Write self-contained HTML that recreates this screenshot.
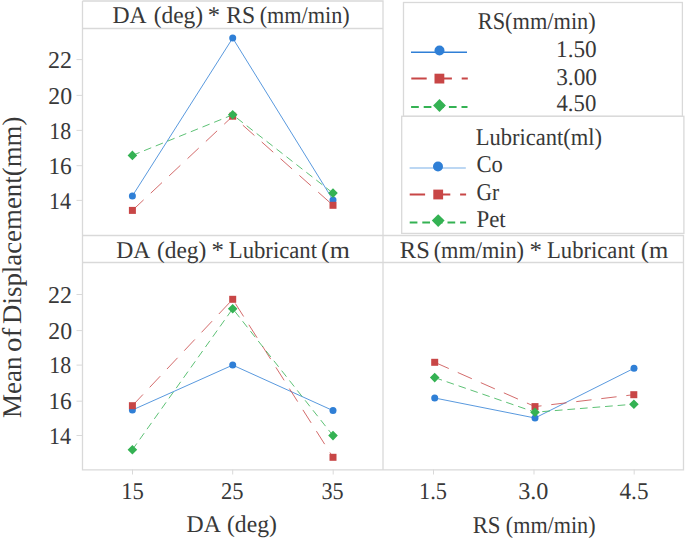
<!DOCTYPE html>
<html><head><meta charset="utf-8">
<title>Interaction Plot for Mean of Displacement(mm)</title>
<style>
html,body{margin:0;padding:0;background:#fff;}
body{width:685px;height:539px;overflow:hidden;}
svg{display:block;}
text{font-family:"Liberation Serif",serif;fill:#383838;text-rendering:geometricPrecision;}
</style></head>
<body>
<svg width="685" height="539" viewBox="0 0 685 539">
<g fill="none" stroke="#d9d9d9" stroke-width="1.3">
<path d="M82.5 1 H383 V469.8 M82.5 1 V469.8 H683.5 V235.5 H82.5 M82.5 28.5 H383 M82.5 262.5 H683.5"/>
</g>
<g fill="none" stroke="#d9d9d9" stroke-width="1">
<path d="M76.5 59.6 H82.5 M76.5 95.4 H82.5 M76.5 130.4 H82.5 M76.5 165.7 H82.5 M76.5 200.4 H82.5"/>
<path d="M76.5 294.5 H82.5 M76.5 330.6 H82.5 M76.5 365.1 H82.5 M76.5 401.2 H82.5 M76.5 435.5 H82.5"/>
<path d="M132.5 469.5 V474.5 M232.7 469.5 V474.5 M333.2 469.5 V474.5 M433.5 469.5 V474.5 M534 469.5 V474.5 M634.2 469.5 V474.5"/>
</g>
<g fill="none" stroke-width="1" stroke-opacity="0.8">
<polyline stroke="#2f7fd6" points="132.4,195.9 232.7,38.1 333,200"/>
<polyline stroke="#c84646" stroke-dasharray="15.4 9.8" points="132.4,210.4 232.7,116.2 333,205.3"/>
<polyline stroke="#34b253" stroke-dasharray="7.7 4.9" points="132.4,155.4 232.7,114.8 333,193.1"/>
<polyline stroke="#2f7fd6" points="132.4,410 232.7,365.1 333,410.6"/>
<polyline stroke="#c84646" stroke-dasharray="15.4 9.8" points="132.4,405.7 232.7,299.3 333,457.3"/>
<polyline stroke="#34b253" stroke-dasharray="7.7 4.9" points="132.4,449.7 232.7,308.7 333,435.6"/>
<polyline stroke="#2f7fd6" points="434.7,398 535,418 634,368.3"/>
<polyline stroke="#c84646" stroke-dasharray="15.4 9.8" points="434.7,362.3 535,406.6 633.8,394.7"/>
<polyline stroke="#34b253" stroke-dasharray="7.7 4.9" points="434.7,377.6 535,412.2 633.9,404.2"/>
</g>
<g fill="#2f7fd6">
<circle cx="132.4" cy="195.9" r="3.5"/><circle cx="232.7" cy="38.1" r="3.5"/><circle cx="333" cy="200" r="3.5"/>
<circle cx="132.4" cy="410" r="3.5"/><circle cx="232.7" cy="365.1" r="3.5"/><circle cx="333" cy="410.6" r="3.5"/>
<circle cx="434.7" cy="398" r="3.5"/><circle cx="535" cy="418" r="3.5"/><circle cx="634" cy="368.3" r="3.5"/>
</g>
<g fill="#c84646">
<rect x="128.9" y="206.9" width="7" height="7"/><rect x="229.2" y="112.7" width="7" height="7"/><rect x="329.5" y="201.8" width="7" height="7"/>
<rect x="128.9" y="402.2" width="7" height="7"/><rect x="229.2" y="295.8" width="7" height="7"/><rect x="329.5" y="453.8" width="7" height="7"/>
<rect x="431.2" y="358.8" width="7" height="7"/><rect x="531.5" y="403.1" width="7" height="7"/><rect x="630.3" y="391.2" width="7" height="7"/>
</g>
<g fill="#34b253">
<path d="M132.4 150.6 L137.2 155.4 L132.4 160.2 L127.6 155.4Z M232.7 110 L237.5 114.8 L232.7 119.6 L227.9 114.8Z M333 188.3 L337.8 193.1 L333 197.9 L328.2 193.1Z"/>
<path d="M132.4 444.9 L137.2 449.7 L132.4 454.5 L127.6 449.7Z M232.7 303.9 L237.5 308.7 L232.7 313.5 L227.9 308.7Z M333 430.8 L337.8 435.6 L333 440.4 L328.2 435.6Z"/>
<path d="M434.7 372.8 L439.5 377.6 L434.7 382.4 L429.9 377.6Z M535 407.4 L539.8 412.2 L535 417 L530.2 412.2Z M633.9 399.4 L638.7 404.2 L633.9 409 L629.1 404.2Z"/>
</g>
<rect x="403.5" y="2.5" width="278.9" height="113.8" fill="#fff" stroke="#d9d9d9" stroke-width="1.3"/>
<line x1="411" y1="52.3" x2="467" y2="52.3" stroke="#2f7fd6" stroke-width="1.4"/>
<circle fill="#2f7fd6" cx="439.5" cy="50.5" r="5"/>
<line x1="411.3" y1="78.6" x2="467.8" y2="78.6" stroke="#c84646" stroke-width="2" stroke-dasharray="15.4 9.8"/>
<rect fill="#c84646" x="434.5" y="73.7" width="9.8" height="9.8"/>
<line x1="411.1" y1="107" x2="467.5" y2="107" stroke="#34b253" stroke-width="2" stroke-dasharray="7.7 4.9"/>
<path fill="#34b253" d="M439.5 99.1 L445.9 105.5 L439.5 111.9 L433.1 105.5Z"/>
<rect x="401.7" y="116.3" width="282.2" height="117.1" fill="#fff" stroke="#d9d9d9" stroke-width="1.3"/>
<line x1="409.6" y1="168" x2="465.8" y2="168" stroke="#bcd7f3" stroke-width="2"/>
<circle fill="#2f7fd6" cx="438" cy="166.5" r="5"/>
<line x1="409.7" y1="194.5" x2="466.1" y2="194.5" stroke="#c84646" stroke-width="2" stroke-dasharray="15.4 9.8"/>
<rect fill="#c84646" x="433.3" y="189.6" width="9.8" height="9.8"/>
<line x1="409.7" y1="222.5" x2="466.1" y2="222.5" stroke="#34b253" stroke-width="2" stroke-dasharray="7.7 4.9"/>
<path fill="#34b253" d="M438.2 214.2 L444.6 220.6 L438.2 227 L431.8 220.6Z"/>
<g id="labels">
<text x="112.48" y="22.60" font-size="24" textLength="34.20" lengthAdjust="spacingAndGlyphs">DA</text>
<text x="153.64" y="22.60" font-size="24" textLength="49.56" lengthAdjust="spacingAndGlyphs">(deg)</text>
<text x="207.78" y="22.60" font-size="24" textLength="12.28" lengthAdjust="spacingAndGlyphs">*</text>
<text x="226.34" y="22.60" font-size="24" textLength="28.90" lengthAdjust="spacingAndGlyphs">RS</text>
<text x="259.66" y="22.60" font-size="24" textLength="90.06" lengthAdjust="spacingAndGlyphs">(mm/min)</text>
<text x="116.16" y="257.90" font-size="24" textLength="34.18" lengthAdjust="spacingAndGlyphs">DA</text>
<text x="156.98" y="257.90" font-size="24" textLength="49.40" lengthAdjust="spacingAndGlyphs">(deg)</text>
<text x="211.46" y="257.90" font-size="24" textLength="12.44" lengthAdjust="spacingAndGlyphs">*</text>
<text x="228.84" y="257.90" font-size="24" textLength="88.18" lengthAdjust="spacingAndGlyphs">Lubricant</text>
<text x="321.14" y="257.90" font-size="24" textLength="28.74" lengthAdjust="spacingAndGlyphs">(m</text>
<text x="399.82" y="257.90" font-size="24" textLength="29.92" lengthAdjust="spacingAndGlyphs">RS</text>
<text x="433.66" y="257.90" font-size="24" textLength="90.38" lengthAdjust="spacingAndGlyphs">(mm/min)</text>
<text x="529.62" y="257.90" font-size="24" textLength="12.44" lengthAdjust="spacingAndGlyphs">*</text>
<text x="547.00" y="257.90" font-size="24" textLength="88.00" lengthAdjust="spacingAndGlyphs">Lubricant</text>
<text x="640.82" y="257.90" font-size="24" textLength="27.54" lengthAdjust="spacingAndGlyphs">(m</text>
<text x="477.80" y="29.30" font-size="24" textLength="117.90" lengthAdjust="spacingAndGlyphs">RS(mm/min)</text>
<text x="556.00" y="56.80" font-size="24" textLength="40.70" lengthAdjust="spacingAndGlyphs">1.50</text>
<text x="556.20" y="84.80" font-size="24" textLength="40.80" lengthAdjust="spacingAndGlyphs">3.00</text>
<text x="556.50" y="111.00" font-size="24" textLength="39.80" lengthAdjust="spacingAndGlyphs">4.50</text>
<text x="475.80" y="144.80" font-size="24" textLength="126.30" lengthAdjust="spacingAndGlyphs">Lubricant(ml)</text>
<text x="476.50" y="171.80" font-size="24" textLength="26.40" lengthAdjust="spacingAndGlyphs">Co</text>
<text x="476.50" y="199.70" font-size="24" textLength="22.70" lengthAdjust="spacingAndGlyphs">Gr</text>
<text x="476.40" y="227.10" font-size="24" textLength="29.30" lengthAdjust="spacingAndGlyphs">Pet</text>
<text x="186.50" y="532.30" font-size="24" textLength="34.34" lengthAdjust="spacingAndGlyphs">DA</text>
<text x="226.98" y="532.30" font-size="24" textLength="49.90" lengthAdjust="spacingAndGlyphs">(deg)</text>
<text x="472.66" y="532.80" font-size="24" textLength="27.90" lengthAdjust="spacingAndGlyphs">RS</text>
<text x="505.80" y="532.80" font-size="24" textLength="89.74" lengthAdjust="spacingAndGlyphs">(mm/min)</text>
<text x="0" y="0" transform="translate(20.9,417.9) rotate(-90)" font-size="27" textLength="61.44" lengthAdjust="spacingAndGlyphs">Mean</text>
<text x="0" y="0" transform="translate(20.9,351.88) rotate(-90)" font-size="27" textLength="24.14" lengthAdjust="spacingAndGlyphs">of</text>
<text x="0" y="0" transform="translate(20.9,323.92) rotate(-90)" font-size="27" textLength="207.26" lengthAdjust="spacingAndGlyphs">Displacement(mm)</text>
<text x="72.10" y="68.30" text-anchor="end" font-size="24" textLength="24.00" lengthAdjust="spacingAndGlyphs">22</text>
<text x="72.10" y="103.80" text-anchor="end" font-size="24" textLength="23.80" lengthAdjust="spacingAndGlyphs">20</text>
<text x="71.20" y="138.80" text-anchor="end" font-size="24" textLength="21.90" lengthAdjust="spacingAndGlyphs">18</text>
<text x="71.80" y="174.30" text-anchor="end" font-size="24" textLength="23.40" lengthAdjust="spacingAndGlyphs">16</text>
<text x="71.10" y="208.80" text-anchor="end" font-size="24" textLength="22.10" lengthAdjust="spacingAndGlyphs">14</text>
<text x="72.10" y="302.80" text-anchor="end" font-size="24" textLength="24.00" lengthAdjust="spacingAndGlyphs">22</text>
<text x="72.10" y="338.80" text-anchor="end" font-size="24" textLength="23.80" lengthAdjust="spacingAndGlyphs">20</text>
<text x="71.20" y="373.30" text-anchor="end" font-size="24" textLength="21.90" lengthAdjust="spacingAndGlyphs">18</text>
<text x="71.80" y="409.30" text-anchor="end" font-size="24" textLength="23.40" lengthAdjust="spacingAndGlyphs">16</text>
<text x="71.10" y="443.80" text-anchor="end" font-size="24" textLength="22.10" lengthAdjust="spacingAndGlyphs">14</text>
<text x="132.50" y="498.50" text-anchor="middle" font-size="24" textLength="22.70" lengthAdjust="spacingAndGlyphs">15</text>
<text x="232.27" y="498.50" text-anchor="middle" font-size="24" textLength="22.60" lengthAdjust="spacingAndGlyphs">25</text>
<text x="332.50" y="498.50" text-anchor="middle" font-size="24" textLength="22.20" lengthAdjust="spacingAndGlyphs">35</text>
<text x="433.00" y="498.50" text-anchor="middle" font-size="24" textLength="28.00" lengthAdjust="spacingAndGlyphs">1.5</text>
<text x="533.35" y="498.50" text-anchor="middle" font-size="24" textLength="30.30" lengthAdjust="spacingAndGlyphs">3.0</text>
<text x="634.00" y="498.50" text-anchor="middle" font-size="24" textLength="29.00" lengthAdjust="spacingAndGlyphs">4.5</text>
</g>
</svg>
</body></html>
